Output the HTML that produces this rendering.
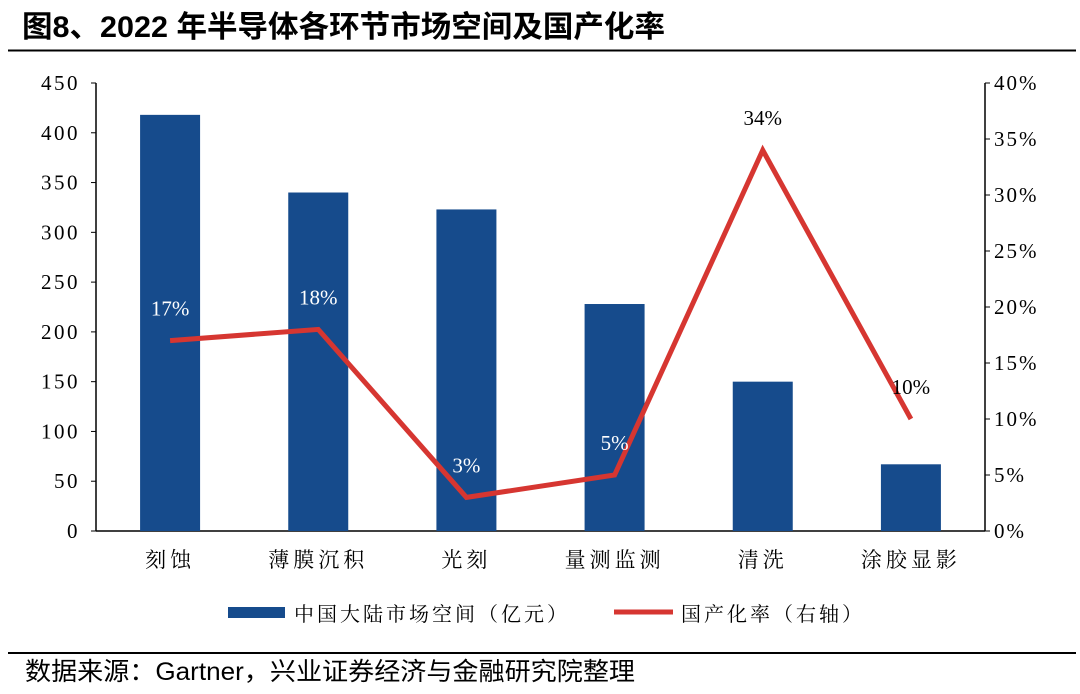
<!DOCTYPE html>
<html><head><meta charset="utf-8"><style>
body{margin:0;background:#fff;}
svg text{font-family:"Liberation Serif","Noto Serif CJK SC",serif;}
</style></head><body>
<svg width="1080" height="689" xmlns="http://www.w3.org/2000/svg">
<text x="22" y="37" font-size="30" font-weight="bold" textLength="643" lengthAdjust="spacingAndGlyphs" style="font-family:'Liberation Sans','Noto Sans CJK SC',sans-serif">图8、2022 年半导体各环节市场空间及国产化率</text>
<line x1="8" y1="50.5" x2="1076" y2="50.5" stroke="#000" stroke-width="2"/>
<g id="plot"></g>
<line x1="8" y1="653" x2="1076" y2="653" stroke="#000" stroke-width="2"/>
<text x="25" y="680" font-size="25" textLength="610" lengthAdjust="spacingAndGlyphs" style="font-family:'Liberation Sans','Noto Sans CJK SC',sans-serif">数据来源：Gartner，兴业证券经济与金融研究院整理</text>
</svg>
<script>
const categories=["刻蚀","薄膜沉积","光刻","量测监测","清洗","涂胶显影"];
const marketValues=[418,340,323,228,150,67];
const rateValues=[17,18,3,5,34,10];
const leftTicks=[0,50,100,150,200,250,300,350,400,450];
const rightTicks=[0,5,10,15,20,25,30,35,40];
const NS="http://www.w3.org/2000/svg";
const g=document.getElementById('plot');
const L=96,R=985,T=83,B=531;
const yL=v=>B-(v/450)*(B-T);
const yR=v=>B-(v/40)*(B-T);
const band=(R-L)/categories.length;
const xC=i=>L+band*(i+0.5);
function mk(t,a){const e=document.createElementNS(NS,t);for(const k in a)e.setAttribute(k,a[k]);g.appendChild(e);return e;}
let e;
e=mk('line',{x1:L,y1:T,x2:L,y2:B,stroke:'#000','stroke-width':1.5});


e=mk('line',{x1:R,y1:T,x2:R,y2:B,stroke:'#000','stroke-width':1.5});


e=mk('line',{x1:L,y1:B,x2:R,y2:B,stroke:'#000','stroke-width':1.5});


leftTicks.forEach(v=>{
 e=mk('line',{x1:L-5,y1:yL(v),x2:L,y2:yL(v),stroke:'#000'});
 
 
 e=mk('text',{x:L-16,y:yL(v)+7,'font-size':21,'text-anchor':'end','letter-spacing':'2.5'});e.textContent=v;
 
 
});
rightTicks.forEach(v=>{
 e=mk('line',{x1:R,y1:yR(v),x2:R+5,y2:yR(v),stroke:'#000'});
 
 
 e=mk('text',{x:R+9,y:yR(v)+7,'font-size':21,'letter-spacing':'2'});e.textContent=v+'%';
 
 
});
categories.forEach((c,i)=>{
 e=mk('rect',{x:xC(i)-30,y:yL(marketValues[i]),width:60,height:B-yL(marketValues[i]),fill:'#164B8C'});
 
 
 e=mk('text',{x:xC(i),y:567,'font-size':21,'text-anchor':'middle','letter-spacing':'4'});e.textContent=c;
 
 
});
e=mk('polyline',{points:rateValues.map((v,i)=>xC(i)+','+yR(v)).join(' '),fill:'none',stroke:'#D63631','stroke-width':5,'stroke-linejoin':'miter'});


rateValues.forEach((v,i)=>{
 const onBar=yR(v)-22>yL(marketValues[i]);
 e=mk('text',{x:xC(i),y:yR(v)-25,'font-size':21,'text-anchor':'middle',fill:onBar?'#fff':'#000'});e.textContent=v+'%';
 
 
});
e=mk('rect',{x:228,y:607,width:57,height:11,fill:'#164B8C'});


e=mk('text',{x:294,y:621,'font-size':20,'letter-spacing':'3'});e.textContent='中国大陆市场空间（亿元）';


e=mk('line',{x1:614,y1:612,x2:673,y2:612,stroke:'#D63631','stroke-width':5});


e=mk('text',{x:681,y:621,'font-size':20,'letter-spacing':'3'});e.textContent='国产化率（右轴）';


</script>
</body></html>
